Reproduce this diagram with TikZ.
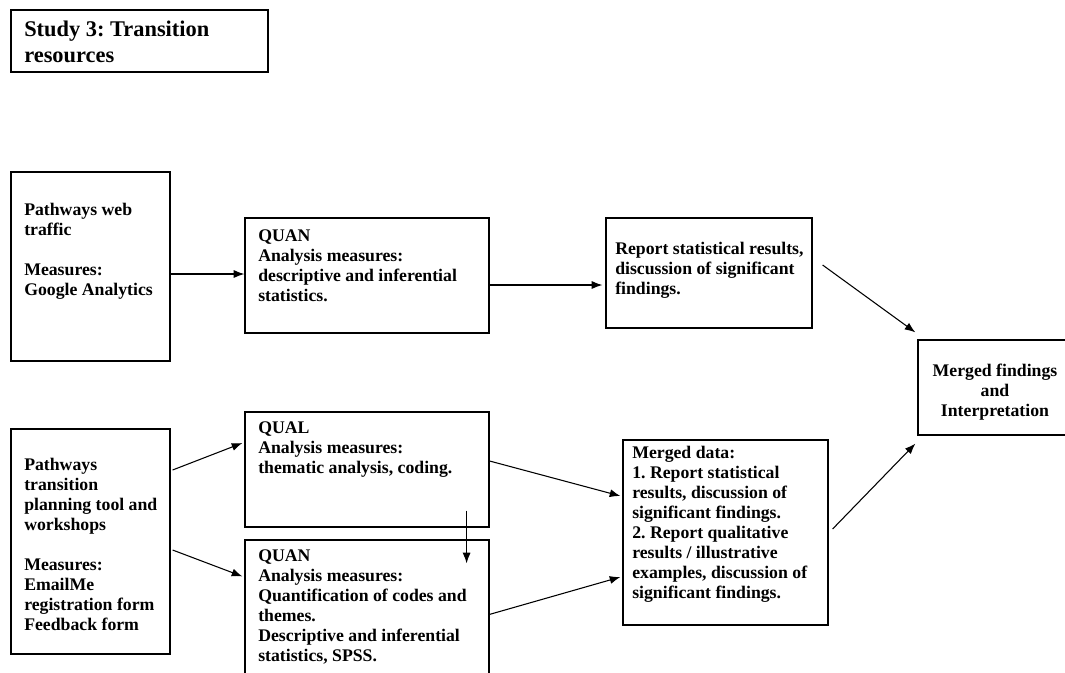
\documentclass[tikz,border=0pt]{standalone}
\usepackage{fontspec}
\setmainfont{Liberation Serif}
\frenchspacing
\usetikzlibrary{calc,fit,arrows.meta}

\tikzset{
    frame/.style={draw, line width=0.9pt, inner sep=0pt},
    txt/.style={anchor=north west, align=left, inner sep=0pt,
        font=\bfseries\fontsize{13.3}{15}\selectfont},
    link/.style={-{Latex[length=8pt,width=6pt]}, line width=0.8pt}
}

\begin{document}
\begin{tikzpicture}[x=0.75pt,y=-0.75pt]
        \useasboundingbox (0,0) rectangle (1065,672);
        \node[frame, fit={(11,10) (268,72)}] (title) {};
        \node[frame, fit={(11,172) (170,361)}] (web) {};
        \node[frame, fit={(245,218) (489,333)}] (quan1) {};
        \node[frame, fit={(606,218) (812,328)}] (report) {};
        \node[frame, fit={(918,340) (1072,435)}] (findings) {};
        \node[frame, fit={(11,429) (170,654)}] (tool) {};
        \node[frame, fit={(245,412) (489,527)}] (qual) {};
        \node[frame, fit={(245,540) (489,682)}] (quan2) {};
        \node[frame, fit={(623,440) (828,625)}] (data) {};

        \node[txt, font=\bfseries\fontsize{16.8}{19.5}\selectfont] (titletext) at (24,21)
            {Study 3: Transition\\resources};
        \node[txt] (webtext) at (24,203)
            {Pathways web\\traffic\\[15pt]Measures:\\Google Analytics};
        \node[txt] (quan1text) at (258,229)
            {QUAN\\Analysis measures:\\descriptive and inferential\\statistics.};
        \node[txt] (reporttext) at (615,242)
            {Report statistical results,\\discussion of significant\\findings.};
        \node[txt, anchor=north, align=center] (findingstext) at (995,364)
            {Merged findings\\and\\Interpretation};
        \node[txt] (tooltext) at (24,458)
            {Pathways\\transition\\planning tool and\\workshops\\[15pt]Measures:\\EmailMe\\registration form\\Feedback form};
        \node[txt] (qualtext) at (258,421)
            {QUAL\\Analysis measures:\\thematic analysis, coding.};
        \node[txt] (quan2text) at (258,549)
            {QUAN\\Analysis measures:\\Quantification of codes and\\themes.\\Descriptive and inferential\\statistics, SPSS.};
        \node[txt] (datatext) at (632,446)
            {Merged data:\\1. Report statistical\\results, discussion of\\significant findings.\\2. Report qualitative\\results / illustrative\\examples, discussion of\\significant findings.};

        \draw[link] ($(web.east)+(0,7.5)$) -- ($(quan1.west)+(0,-1.5)$);
        \draw[link] ($(quan1.east)+(0,9.5)$) -- ($(report.west)+(-3,12)$);
        \draw[link] ($(report.east)+(10,-8)$) -- ($(findings.north west)+(-2,-7)$);
        \draw[link] ($(data.east)+(4,-3.5)$) -- ($(findings.south west)+(-2,8)$);
        \draw[link] ($(tool.east)+(2,-71.5)$) -- ($(qual.west)+(-2,-26.5)$);
        \draw[link] ($(tool.east)+(2,8.5)$) -- ($(quan2.north west)+(-2,37)$);
        \draw[link] ($(qual.east)+(0,-8.5)$) -- ($(data.west)+(-2,-36.5)$);
        \draw[link] ($(quan2.north east)+(0,75)$) -- ($(data.west)+(-2,44.5)$);
        \draw[link] ($(qual.south east)+(-23,-17)$) -- ($(quan2.north east)+(-23,24)$);
    \end{tikzpicture}
\end{document}
